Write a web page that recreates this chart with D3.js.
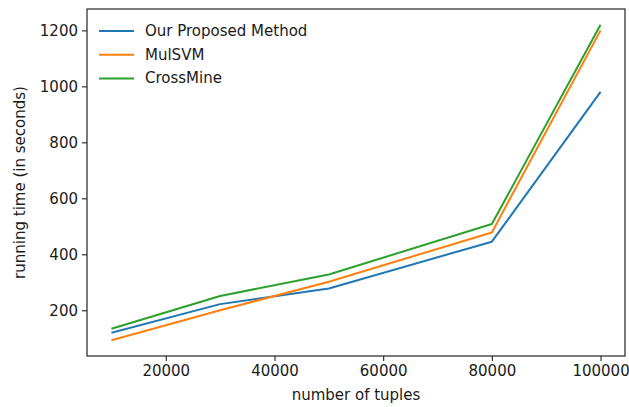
<!DOCTYPE html>
<meta charset="utf-8">
<html>
    <head>
        <style type="text/css">
            body { margin:0; background:#fff; }
            svg { display:block; }
            .graphText { font-family: "DejaVu Sans"; font-size: 15px; fill: #1a1a1a; }
        </style>
        <script src="https://d3js.org/d3.v7.min.js"></script>
    </head>
    <body>
        <svg width="629" height="407"></svg>
        <script type="text/javascript">
            // values
            var tuples = [10000, 30000, 50000, 80000, 100000];
            var proposed = [120, 222, 278, 445, 980];
            var mulsvm = [93, 200, 302, 478, 1200];
            var crossmine = [134, 251, 328, 508, 1220];
            var seriesNames = ["Our Proposed Method", "MulSVM", "CrossMine"];
            var seriesColors = ["#1f77b4", "#ff7f0e", "#2ca02c"];
            var xTicks = [20000, 40000, 60000, 80000, 100000];
            var yTicks = [200, 400, 600, 800, 1000, 1200];

            var margin = {top: 9, bottom: 51, left: 87, right: 4};
            var width = 629, height = 407;

            var allSeries = [proposed, mulsvm, crossmine];

            // matplotlib style 5% padding
            var xPad = (d3.max(tuples) - d3.min(tuples)) * 0.05;
            var yMin = d3.min(allSeries, s => d3.min(s));
            var yMax = d3.max(allSeries, s => d3.max(s));
            var yPad = (yMax - yMin) * 0.05;

            var xScale = d3.scaleLinear()
                .domain([d3.min(tuples) - xPad, d3.max(tuples) + xPad])
                .range([margin.left, width - margin.right]);
            var yScale = d3.scaleLinear()
                .domain([yMin - yPad, yMax + yPad])
                .range([height - margin.bottom, margin.top]);

            var svg = d3.select("svg");

            var line = d3.line()
                .x((d, i) => xScale(tuples[i]))
                .y(d => yScale(d));

            svg.selectAll("path.series")
                .data(allSeries)
                .enter().append("path")
                .attr("class", "series")
                .attr("d", d => line(d))
                .attr("fill", "none")
                .attr("stroke", (d, i) => seriesColors[i])
                .attr("stroke-width", 2)
                .attr("stroke-linejoin", "round");

            // frame
            svg.append("rect")
                .attr("x", margin.left)
                .attr("y", margin.top)
                .attr("width", width - margin.left - margin.right)
                .attr("height", height - margin.top - margin.bottom)
                .attr("fill", "none")
                .attr("stroke", "#222")
                .attr("stroke-width", 1.2);

            var xAxis = d3.axisBottom(xScale)
                .tickValues(xTicks)
                .tickFormat(d3.format("d"))
                .tickSize(5)
                .tickPadding(4);
            var yAxis = d3.axisLeft(yScale)
                .tickValues(yTicks)
                .tickFormat(d3.format("d"))
                .tickSize(5)
                .tickPadding(4);

            var gx = svg.append("g")
                .attr("transform", "translate(" + [0, height - margin.bottom] + ")")
                .call(xAxis);
            var gy = svg.append("g")
                .attr("transform", "translate(" + [margin.left, 0] + ")")
                .call(yAxis);

            [gx, gy].forEach(g => {
                g.select(".domain").remove();
                g.selectAll(".tick line").attr("stroke", "#222").attr("stroke-width", 1.1);
                g.selectAll(".tick text")
                    .attr("class", "graphText")
                    .attr("fill", "#1a1a1a")
                    .style("font-size", "15px");
            });

            svg.append("text")
                .attr("class", "graphText")
                .attr("x", (margin.left + width - margin.right) / 2)
                .attr("y", 400)
                .style("text-anchor", "middle")
                .text("number of tuples");

            svg.append("text")
                .attr("class", "graphText")
                .attr("transform", "translate(25," + (margin.top + height - margin.bottom) / 2 + ") rotate(-90)")
                .style("text-anchor", "middle")
                .text("running time (in seconds)");

            // legend, no frame
            var legend = svg.selectAll("g.legend")
                .data(seriesNames)
                .enter().append("g")
                .attr("class", "legend")
                .attr("transform", (d, i) => "translate(" + [99, 31 + i * 23.7] + ")");
            legend.append("line")
                .attr("x1", 0).attr("x2", 35)
                .attr("stroke", (d, i) => seriesColors[i])
                .attr("stroke-width", 2);
            legend.append("text")
                .attr("class", "graphText")
                .attr("x", 46)
                .attr("y", 5)
                .text(d => d);
        </script>
    </body>
</html>
